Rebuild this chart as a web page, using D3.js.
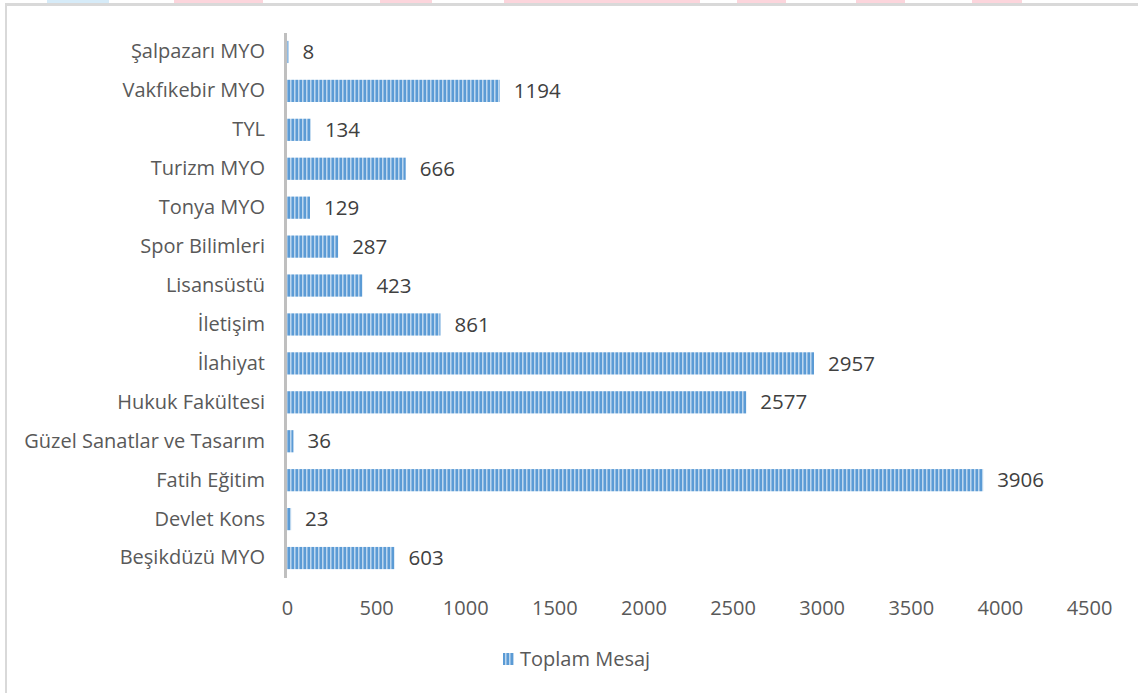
<!DOCTYPE html>
<html><head><meta charset="utf-8">
<script src="https://cdn.jsdelivr.net/npm/d3@7"></script>
<style>html,body{margin:0;padding:0;background:#fff;} svg{display:block;}</style>
</head><body>
<svg id="chart" width="1138" height="693"></svg>
<script>
const categories = ["Şalpazarı MYO","Vakfıkebir MYO","TYL","Turizm MYO","Tonya MYO","Spor Bilimleri","Lisansüstü","İletişim","İlahiyat","Hukuk Fakültesi","Güzel Sanatlar ve Tasarım","Fatih Eğitim","Devlet Kons","Beşikdüzü MYO"];
const values = [8,1194,134,666,129,287,423,861,2957,2577,36,3906,23,603];
const tickValues = [0,500,1000,1500,2000,2500,3000,3500,4000,4500];
const seriesName = "Toplam Mesaj";

const svg = d3.select("#chart");
const FONT = "'Open Sans', sans-serif";
const FS = 20;

// decorative cut-off shapes at the very top
const deco = [[47,109,"#d6ebf8"],[174,263,"#fcd5dc"],[380,432,"#fcd5dc"],[504,700,"#fcd5dc"],[737,786,"#fcd5dc"],[856,905,"#fcd5dc"],[972,1022,"#fcd5dc"]];
svg.selectAll("rect.deco").data(deco).enter().append("rect")
  .attr("x",d=>d[0]).attr("y",0).attr("width",d=>d[1]-d[0]).attr("height",3).attr("fill",d=>d[2]);

// frame (top and left)
svg.append("rect").attr("x",5).attr("y",3).attr("width",1133).attr("height",3).attr("fill","#d9d9d9");
svg.append("rect").attr("x",5).attr("y",3).attr("width",2).attr("height",690).attr("fill","#d9d9d9");

const defs = svg.append("defs");
const pat = defs.append("pattern").attr("id","stripes").attr("patternUnits","userSpaceOnUse")
  .attr("width",4).attr("height",10);
pat.append("rect").attr("width",4).attr("height",10).attr("fill","#5b9bd5");
pat.append("rect").attr("x",2).attr("width",1).attr("height",10).attr("fill","#bdd7ee");
pat.append("rect").attr("x",3).attr("width",1).attr("height",10).attr("fill","#8fbae3");

const x = d3.scaleLinear().domain([0,4500]).range([287,1089]);
const y = d3.scaleBand().domain(categories).range([32.5,577.5]).paddingInner(0.43).paddingOuter(0.215);

// x tick labels
svg.append("g").attr("transform","translate(0,608)")
  .call(d3.axisBottom(x).tickValues(tickValues).tickFormat(d3.format("d")).tickSize(0).tickPadding(0))
  .call(g=>g.select(".domain").remove())
  .call(g=>g.selectAll("text").attr("font-family",FONT).attr("font-size",FS).attr("fill","#595959").attr("dy","0.35em"));

// bars
svg.selectAll("rect.bar").data(values).enter().append("rect")
  .attr("class","bar")
  .attr("x",x(0))
  .attr("y",(d,i)=>y(categories[i]))
  .attr("width",d=>x(d)-x(0))
  .attr("height",y.bandwidth())
  .attr("fill","url(#stripes)");

// y axis
svg.append("g").attr("transform","translate(285,0)")
  .call(d3.axisLeft(y).tickSize(0).tickPadding(20))
  .call(g=>g.select(".domain").attr("stroke","#bfbfbf").attr("stroke-width",3))
  .call(g=>g.selectAll("text").attr("font-family",FONT).attr("font-size",FS).attr("fill","#595959"));

// value labels
svg.selectAll("text.val").data(values).enter().append("text")
  .attr("class","val")
  .attr("x",d=>x(d)+14)
  .attr("y",(d,i)=>y(categories[i])+y.bandwidth()/2)
  .attr("dy","0.35em")
  .attr("font-family",FONT).attr("font-size",FS+0.5).attr("fill","#404040")
  .text(d=>d);

// legend
const lg = svg.append("g").attr("transform","translate(503,653)");
lg.append("rect").attr("width",11).attr("height",12).attr("fill","url(#stripes)");
lg.append("text").attr("x",17).attr("y",6).attr("dy","0.35em")
  .attr("font-family",FONT).attr("font-size",FS).attr("fill","#595959").text(seriesName);
</script>
</body></html>
